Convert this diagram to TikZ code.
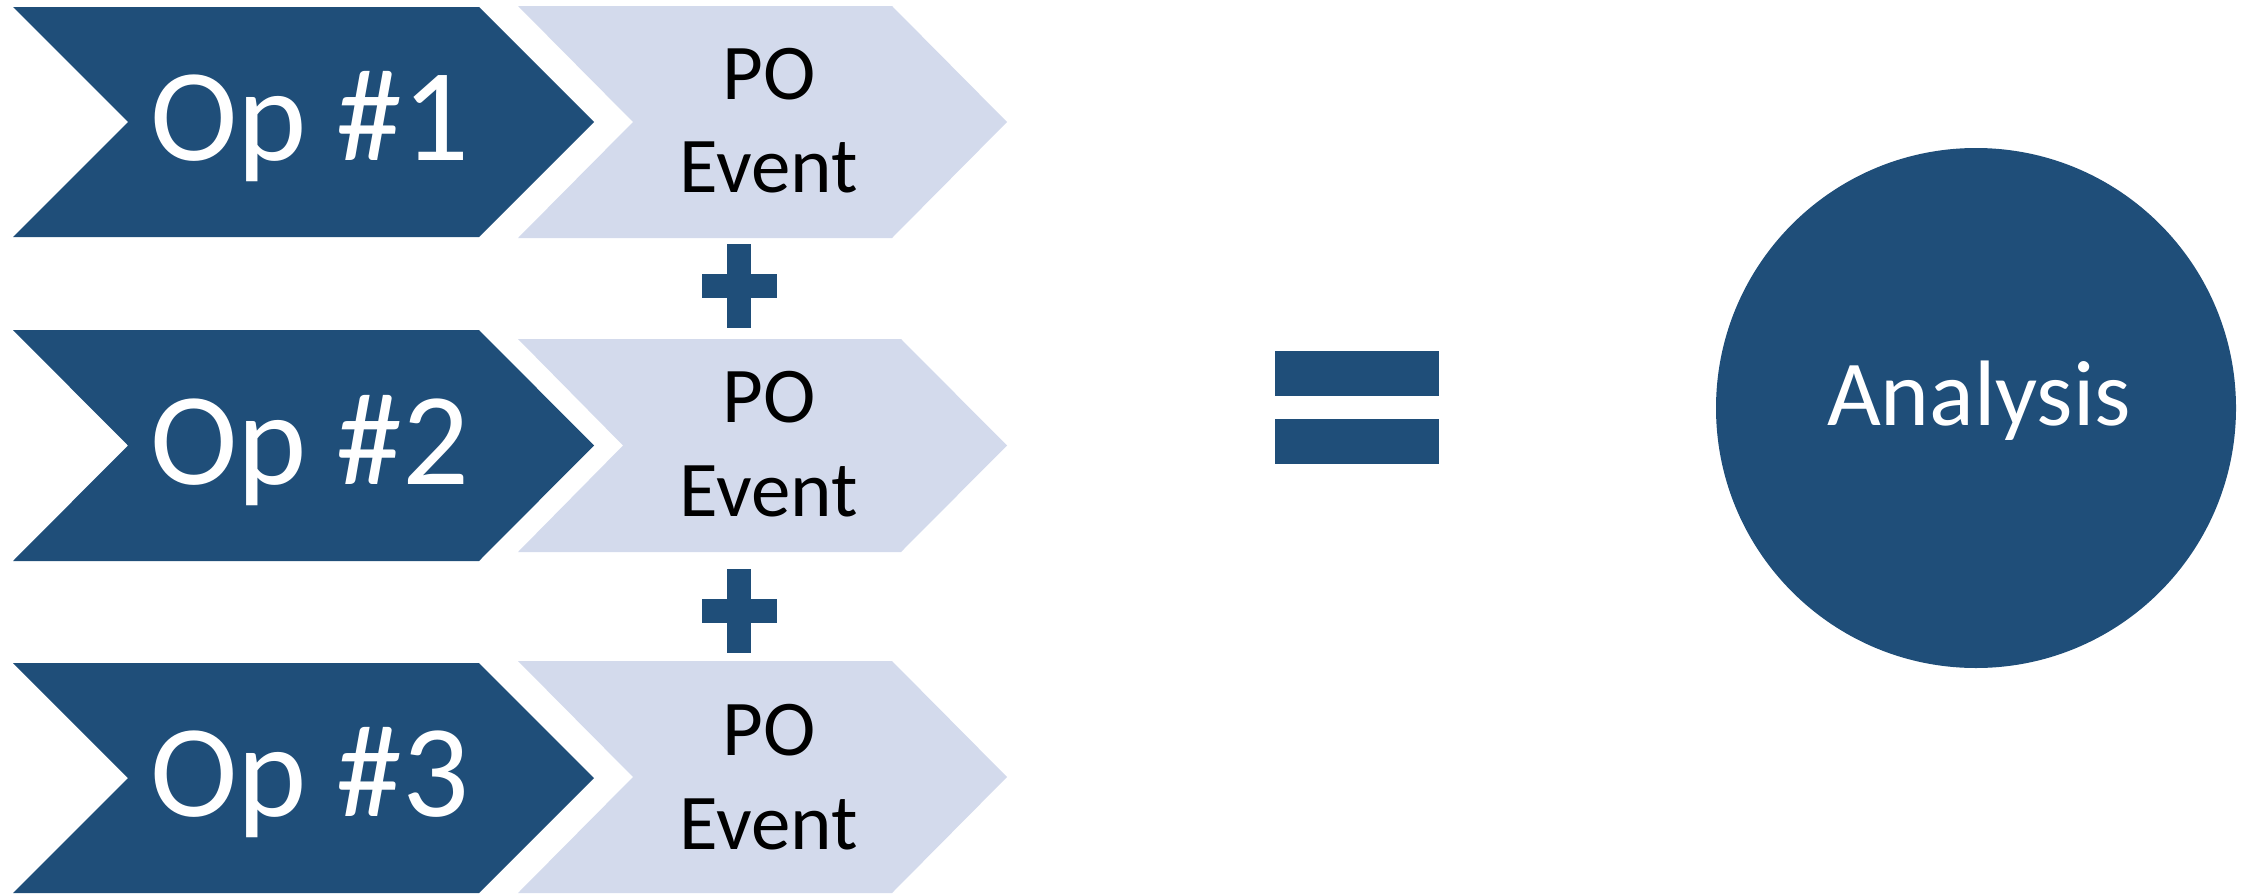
\documentclass[tikz,border=0pt]{standalone}
\usepackage{fontspec}
\setmainfont{Carlito}
\definecolor{navy}{RGB}{31,78,121}
\definecolor{lav}{RGB}{211,218,236}
\begin{document}
\begin{tikzpicture}[x=1pt,y=-1pt,
  opshape/.style={fill=navy},
  poshape/.style={fill=lav},
  sign/.style={fill=navy},
  optext/.style={anchor=base, text=white, inner sep=0pt, font=\fontsize{132}{150}\selectfont},
  potext/.style={anchor=base, text=black, inner sep=0pt, font=\fontsize{79}{95}\selectfont},
  restext/.style={anchor=base, text=white, inner sep=0pt, font=\fontsize{93}{110}\selectfont}]
\useasboundingbox (0,0) rectangle (2244,894);

% dark chevrons (operations)
\fill[opshape] (13,7) -- (479,7) -- (594,122) -- (479,237) -- (13,237) -- (128,122) -- cycle;
\fill[opshape] (13,330) -- (479,330) -- (594,445.5) -- (479,561) -- (13,561) -- (128,445.5) -- cycle;
\fill[opshape] (13,663) -- (479,663) -- (594,778) -- (479,893) -- (13,893) -- (128,778) -- cycle;

% light chevrons (PO events)
\fill[poshape] (518,6) -- (892,6) -- (1007,122) -- (892,238) -- (518,238) -- (633,122) -- cycle;
\fill[poshape] (518,339) -- (901,339) -- (1007,445.5) -- (901,552) -- (518,552) -- (623,445.5) -- cycle;
\fill[poshape] (518,661) -- (892,661) -- (1007,777) -- (892,893) -- (518,893) -- (633,777) -- cycle;

% plus signs
\fill[sign] (727,244) rectangle (751,328);
\fill[sign] (702,274) rectangle (777,298);
\fill[sign] (727,569) rectangle (751,653);
\fill[sign] (702,599) rectangle (777,623);

% equals sign
\fill[sign] (1275,351) rectangle (1439,396);
\fill[sign] (1275,419) rectangle (1439,464);

% result circle
\node[circle, fill=navy, minimum size=520pt, inner sep=0pt] (analysis) at (1976,408) {};
\node[restext] (analysislabel) at (1979,425) {Analysis};

% labels
\node[optext] (op1) at (310,160) {Op \#1};
\node[optext] (op2) at (310,484) {Op \#2};
\node[optext] (op3) at (310,816) {Op \#3};

\node[potext] (po1) at (769,99) {PO};
\node[potext] (ev1) at (769,192.5) {Event};
\node[potext] (po2) at (769,422) {PO};
\node[potext] (ev2) at (769,516) {Event};
\node[potext] (po3) at (769,755) {PO};
\node[potext] (ev3) at (769,849) {Event};
\end{tikzpicture}
\end{document}
